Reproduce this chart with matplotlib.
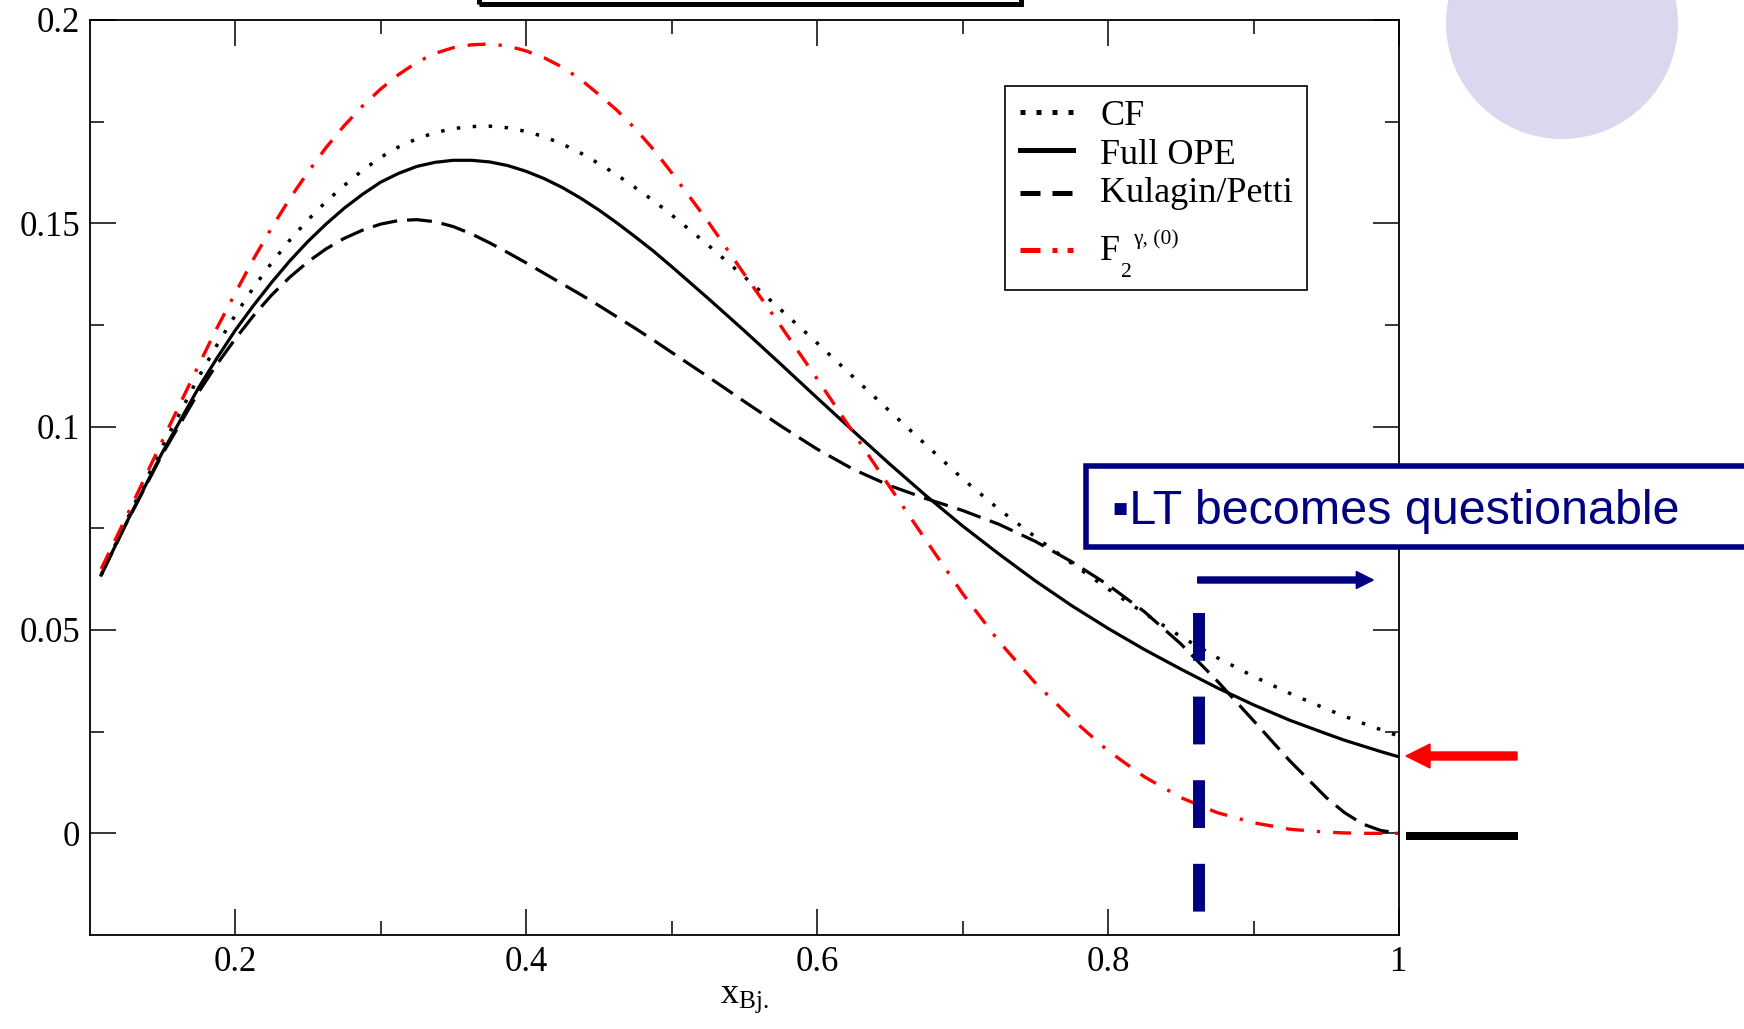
import matplotlib
matplotlib.use('Agg')
import matplotlib.pyplot as plt
from matplotlib.lines import Line2D
from matplotlib.patches import Rectangle, Circle, FancyArrow
from matplotlib.transforms import IdentityTransform

# ---------------- data ----------------
x_bj = [0.108, 0.125, 0.15, 0.175, 0.1875, 0.2, 0.2125, 0.225, 0.2375, 0.25,
        0.2625, 0.275, 0.2875, 0.3, 0.3125, 0.325, 0.3375, 0.35, 0.3625,
        0.375, 0.3875, 0.4, 0.4125, 0.425, 0.4375, 0.45, 0.4625, 0.475,
        0.4875, 0.5, 0.525, 0.55, 0.575, 0.6, 0.625, 0.65, 0.675, 0.7, 0.725,
        0.75, 0.775, 0.8, 0.825, 0.85, 0.875, 0.9, 0.925, 0.95, 0.9625, 0.975,
        0.9875, 1.0]
cf = [0.0635, 0.0766, 0.0951, 0.1122, 0.1200, 0.1273, 0.1341, 0.1402, 0.1458,
      0.1508, 0.1553, 0.1593, 0.1630, 0.1662, 0.1688, 0.1708, 0.1723, 0.1733,
      0.1738, 0.1739, 0.1735, 0.1726, 0.1713, 0.1695, 0.1673, 0.1647, 0.1619,
      0.1588, 0.1556, 0.1521, 0.1447, 0.1369, 0.1288, 0.1206, 0.1122, 0.1038,
      0.0955, 0.0872, 0.0797, 0.0729, 0.0664, 0.0601, 0.0541, 0.0484, 0.0432,
      0.0386, 0.0344, 0.0306, 0.0288, 0.0271, 0.0255, 0.0239]
full_ope = [0.0635, 0.0761, 0.0936, 0.1096, 0.1168, 0.1236, 0.1297, 0.1354,
            0.1407, 0.1455, 0.1498, 0.1537, 0.1571, 0.1601, 0.1623, 0.1640,
            0.1650, 0.1655, 0.1655, 0.1651, 0.1642, 0.1628, 0.1610, 0.1588,
            0.1562, 0.1533, 0.1501, 0.1467, 0.1432, 0.1394, 0.1316, 0.1236,
            0.1154, 0.1071, 0.0989, 0.0908, 0.0830, 0.0756, 0.0687, 0.0621,
            0.0560, 0.0504, 0.0452, 0.0404, 0.0358, 0.0316, 0.0278, 0.0245,
            0.0229, 0.0215, 0.0201, 0.0188]
kulagin_petti = [0.0635, 0.0760, 0.0932, 0.1085, 0.1153, 0.1215, 0.1272,
                 0.1323, 0.1367, 0.1405, 0.1437, 0.1463, 0.1483, 0.1498,
                 0.1507, 0.1509, 0.1504, 0.1492, 0.1474, 0.1452, 0.1428,
                 0.1403, 0.1377, 0.1351, 0.1325, 0.1298, 0.1270, 0.1242,
                 0.1213, 0.1183, 0.1123, 0.1062, 0.1002, 0.0945, 0.0895,
                 0.0855, 0.0823, 0.0794, 0.0760, 0.0718, 0.0668, 0.0611,
                 0.0545, 0.0466, 0.0375, 0.0277, 0.0178, 0.0088, 0.0051,
                 0.0023, 0.0007, 0.0]
f2_gamma0 = [0.0650, 0.0776, 0.0965, 0.1151, 0.1242, 0.1327, 0.1411, 0.1488,
             0.1560, 0.1625, 0.1686, 0.1740, 0.1788, 0.1830, 0.1866, 0.1896,
             0.1918, 0.1932, 0.1939, 0.1941, 0.1936, 0.1924, 0.1907, 0.1884,
             0.1854, 0.1817, 0.1778, 0.1733, 0.1682, 0.1625, 0.1505, 0.1375,
             0.1248, 0.1118, 0.0985, 0.0852, 0.0720, 0.0590, 0.0472, 0.0370,
             0.0282, 0.0203, 0.0139, 0.0088, 0.0051, 0.0026, 0.0010, 0.0003,
             0.0001, 0.0, 0.0, 0.0]

series_labels = ['CF', 'Full OPE', 'Kulagin/Petti']
f2_label_parts = ['F', '2', '\u03b3, (0)']
xticks = [0.2, 0.4, 0.6, 0.8, 1.0]
xtick_labels = ['0.2', '0.4', '0.6', '0.8', '1']
xminor = [0.3, 0.5, 0.7, 0.9]
yticks = [0.0, 0.05, 0.1, 0.15, 0.2]
ytick_labels = ['0', '0.05', '0.1', '0.15', '0.2']
yminor = [0.025, 0.075, 0.125, 0.175]
xlabel = r'x$_{\mathrm{Bj.}}$'
lt_text = '\u25aaLT becomes questionable'
x_lt = 0.8625
lt_range = [0.0543, -0.0194]

# ---------------- style ----------------
plt.rcParams['font.family'] = ['Liberation Serif', 'DejaVu Serif']
plt.rcParams['mathtext.fontset'] = 'custom'
plt.rcParams['mathtext.rm'] = 'Liberation Serif'
plt.rcParams['mathtext.it'] = 'Liberation Serif:italic'
plt.rcParams['mathtext.bf'] = 'Liberation Serif:bold'

W, H = 1744, 1029
NAVY = '#000080'
RED = '#ff0000'
fig = plt.figure(figsize=(W / 100, H / 100), dpi=100)
ax = fig.add_axes([89.5 / W, 94 / H, 1309.5 / W, 915 / H])

styles = [
    dict(color='k', lw=2.5, linestyle=(0, (1, 3.6))),
    dict(color='k', lw=2.3, linestyle='-'),
    dict(color='k', lw=2.3, linestyle=(0, (7.8, 3.1))),
    dict(color=RED, lw=2.4, linestyle=(0, (5.4, 3.9, 5.4, 3.9, 1, 3.9))),
]
for ys, st in zip([cf, full_ope, kulagin_petti, f2_gamma0], styles):
    ax.plot(x_bj, ys, **st)

ax.plot([x_lt, x_lt], lt_range, color=NAVY, lw=8.6, linestyle=(0, (4, 3)),
        zorder=4)

ax.set_xlim(0.1, 1.0)
ax.set_ylim(-0.025, 0.2)
ax.set_xticks(xticks, xtick_labels)
ax.set_xticks(xminor, minor=True)
ax.set_yticks(yticks, ytick_labels)
ax.set_yticks(yminor, minor=True)
ax.tick_params(which='both', direction='in', top=True, right=True,
               width=1.1, labelsize=25)
ax.tick_params(which='major', length=18.7)
ax.tick_params(which='minor', length=10)
ax.tick_params(axis='x', pad=8)
ax.tick_params(axis='y', pad=7)
for s in ax.spines.values():
    s.set_linewidth(1.3)
ax.set_xlabel(xlabel, fontsize=26, labelpad=2)

idt = IdentityTransform()

# ---------------- legend box (pixel coordinates) ----------------
fig.add_artist(Rectangle((1005, H - 290), 302, 204, facecolor='white',
                         edgecolor='k', lw=1.2, transform=idt, zorder=2))
leg_rows_y = [112, 150, 193, 250]
leg_styles = [
    dict(color='k', lw=3.6, linestyle=(0, (1, 2.2))),
    dict(color='k', lw=3.6, linestyle='-'),
    dict(color='k', lw=3.6, linestyle=(0, (4, 2.4))),
    dict(color=RED, lw=3.6, linestyle=(0, (4, 2.4, 1, 2, 4, 2.4))),
]
for yy, st in zip(leg_rows_y, leg_styles):
    fig.add_artist(Line2D([1020, 1073], [H - yy, H - yy], transform=idt,
                          zorder=3, **st))
for lab, base in zip(series_labels, [125, 163.5, 201.5]):
    fig.text(1100 / W, 1 - base / H, lab, fontsize=26, ha='left',
             va='baseline', zorder=3)
fig.text(1100 / W, 1 - 260 / H, f2_label_parts[0], fontsize=26, ha='left',
         va='baseline', zorder=3)
fig.text(1121 / W, 1 - 277 / H, f2_label_parts[1], fontsize=15.5, ha='left',
         va='baseline', zorder=3)
fig.text(1133 / W, 1 - 244 / H, f2_label_parts[2], fontsize=15.5, ha='left',
         va='baseline', zorder=3)

# ---------------- slide decorations (pixel coordinates) ----------------
fig.add_artist(Circle((1562, H - 23), 116, facecolor='#dad8ee',
                      edgecolor='none', transform=idt))
fig.add_artist(Rectangle((478.5, H - 4.2), 542, 40, fill=False,
                         edgecolor='k', lw=3.6, transform=idt))
fig.add_artist(Rectangle((1085.75, H - 547.25), 700, 81.5, facecolor='white',
                         edgecolor=NAVY, lw=4, transform=idt, zorder=2))
fig.text(1112 / W, 1 - 524 / H, lt_text, fontsize=34.9, color=NAVY,
         family=['Liberation Sans', 'DejaVu Sans'], ha='left', va='baseline',
         zorder=3)
fig.add_artist(FancyArrow(1197.7, H - 580, 175.6, 0, width=6, head_width=17,
                          head_length=17, length_includes_head=True,
                          color=NAVY, transform=idt))
fig.add_artist(FancyArrow(1517, H - 756, -111, 0, width=8, head_width=24,
                          head_length=24, length_includes_head=True,
                          color=RED, transform=idt))
fig.add_artist(Rectangle((1406, H - 840), 111.5, 8.5, facecolor='k',
                         edgecolor='none', transform=idt))

fig.savefig('out.png', dpi=100)
